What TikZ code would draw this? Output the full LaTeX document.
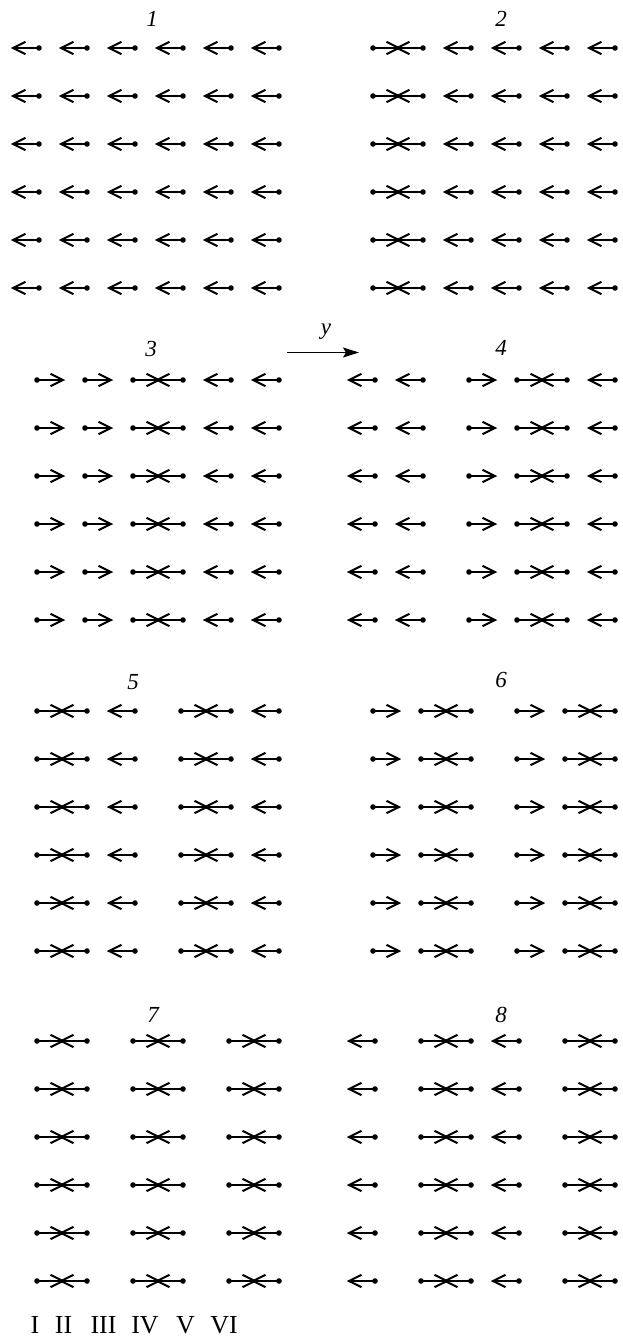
\documentclass[tikz,border=0pt]{standalone}
\usepackage{fontspec}
\setmainfont{Liberation Serif}
\usetikzlibrary{arrows.meta}
\tikzset{
  spin/.style={line width=2pt, line cap=butt},
  larr/.pic={
    \draw[spin] (0,0) -- (-26,0);
    \draw[spin, line join=miter] (-13.5,-6.2) -- (-26,0) -- (-13.5,6.2);
    \fill (0,0) circle[radius=2.8];
  },
  rarr/.pic={
    \draw[spin] (0,0) -- (26,0);
    \draw[spin, line join=miter] (13.5,-6.2) -- (26,0) -- (13.5,6.2);
    \fill (0,0) circle[radius=2.8];
  },
  plabel/.style={font=\fontsize{23}{26}\selectfont\itshape, inner sep=0pt},
  roman/.style={font=\fontsize{26}{30}\selectfont, inner sep=0pt, anchor=base},
}
\newcommand{\panelrow}[2]{% #1 = y of first row, #2 = list k/dir
  \foreach \r in {0,...,5}{
    \foreach \k/\d in {#2}{
      \if L\d
        \pic at ({39+48*\k},{#1+48*\r}) {larr};
      \else
        \pic at ({37+48*\k},{#1+48*\r}) {rarr};
      \fi
    }
  }
}
\begin{document}
\begin{tikzpicture}[x=1pt,y=-1pt]
\useasboundingbox (0,0) rectangle (622,1338);
% panel labels
\node[plabel] (l1) at (152,19) {1};
\node[plabel] (l2) at (501,19) {2};
\node[plabel] (l3) at (151,349) {3};
\node[plabel] (l4) at (501,348) {4};
\node[plabel] (l5) at (133,682) {5};
\node[plabel] (l6) at (501,680) {6};
\node[plabel] (l7) at (153,1015) {7};
\node[plabel] (l8) at (501,1015) {8};
% panels
\panelrow{48}{0/L,1/L,2/L,3/L,4/L,5/L}
\panelrow{48}{7/R,8/L,9/L,10/L,11/L,12/L}
\panelrow{380}{0/R,1/R,2/R,3/L,4/L,5/L}
\panelrow{380}{7/L,8/L,9/R,10/R,11/L,12/L}
\panelrow{711}{0/R,1/L,2/L,3/R,4/L,5/L}
\panelrow{711}{7/R,8/R,9/L,10/R,11/R,12/L}
\panelrow{1041}{0/R,1/L,2/R,3/L,4/R,5/L}
\panelrow{1041}{7/L,8/R,9/L,10/L,11/R,12/L}
% y axis arrow
\coordinate (ya) at (287,352.5);
\coordinate (yb) at (359,352.5);
\draw[line width=1.5pt, -{Stealth[length=16pt,width=10pt,inset=3pt]}] (ya) -- (yb);
\node[plabel] (yl) at (326,332) {y};
% roman numerals
\node[roman] (n1) at (35,1333) {I};
\node[roman] (n2) at (63.5,1333) {II};
\node[roman] (n3) at (103.5,1333) {III};
\node[roman] (n4) at (145,1333) {IV};
\node[roman] (n5) at (185.5,1333) {V};
\node[roman] (n6) at (224,1333) {VI};
\end{tikzpicture}
\end{document}
